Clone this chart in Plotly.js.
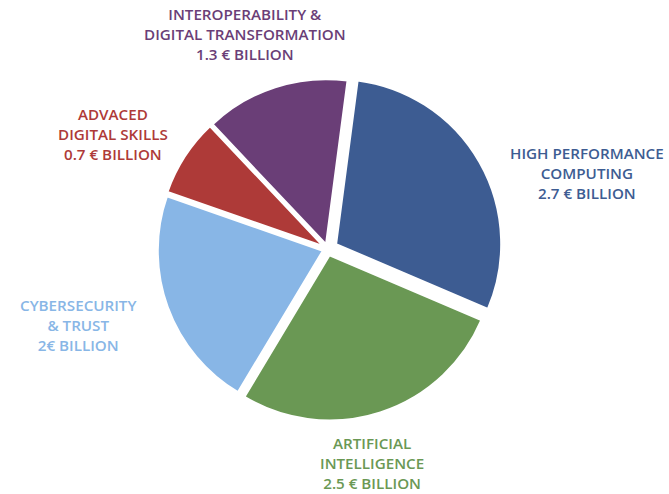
<!DOCTYPE html>
<html>
<head>
<meta charset="utf-8">
<script src="https://cdn.plot.ly/plotly-3.0.1.min.js"></script>
<style>html,body{margin:0;padding:0;background:#fff;}#chart{width:669px;height:494px;}</style>
</head>
<body>
<div id="chart"></div>
<script>
const categories = ["HIGH PERFORMANCE<br>COMPUTING", "ARTIFICIAL<br>INTELLIGENCE", "CYBERSECURITY<br>& TRUST", "ADVACED<br>DIGITAL SKILLS", "INTEROPERABILITY &<br>DIGITAL TRANSFORMATION"];
const values = [2.7, 2.5, 2.0, 0.7, 1.3];
const valueLabels = ["2.7 € BILLION", "2.5 € BILLION", "2€ BILLION", "0.7 € BILLION", "1.3 € BILLION"];
const colors = ["#3d5c92", "#6a9854", "#88b6e6", "#ae3a38", "#6a3e77"];

const pulls = [0.06, 0.04, 0.03, 0.03, 0.03];
const labelPos = [
  {x: 587, y: 173}, {x: 372, y: 463}, {x: 78, y: 325}, {x: 113, y: 134}, {x: 245, y: 34}
];

const W = 669, H = 494;
const annotations = categories.map((c, i) => ({
  text: c + "<br>" + valueLabels[i],
  x: labelPos[i].x / W, y: 1 - labelPos[i].y / H,
  xref: "paper", yref: "paper", xanchor: "center", yanchor: "middle",
  borderpad: 0, showarrow: false, align: "center",
  font: {family: "'Open Sans', Lato, sans-serif", size: 15.2, weight: 600, color: colors[i]}
}));

const trace = {
  type: "pie",
  labels: categories,
  values: values,
  sort: false,
  direction: "clockwise",
  rotation: 7.5,
  pull: pulls,
  marker: {colors: colors, line: {color: "#ffffff", width: 2}},
  textinfo: "none",
  hoverinfo: "none",
  showlegend: false,
  domain: {x: [0.2280, 0.7511], y: [0.1417, 0.8502]}
};

Plotly.newPlot("chart", [trace], {
  width: W, height: H,
  margin: {l: 0, r: 0, t: 0, b: 0},
  paper_bgcolor: "#ffffff",
  showlegend: false,
  annotations: annotations
}, {staticPlot: true});
</script>
</body>
</html>
